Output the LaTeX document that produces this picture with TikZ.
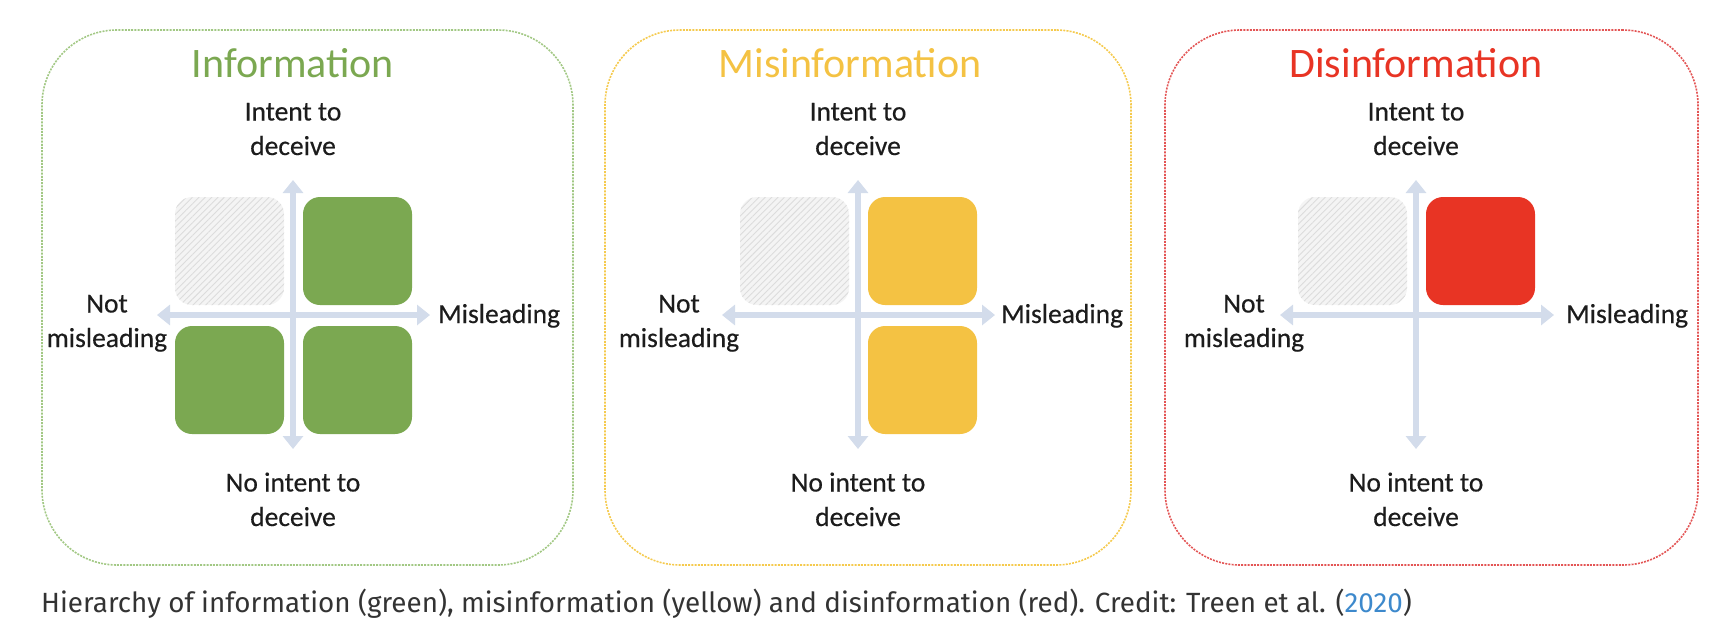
\documentclass[tikz,border=0pt]{standalone}
\usepackage{fontspec}
\setmainfont{Carlito}
\newfontfamily\lblfont[FakeBold=0.4]{Carlito}
\newfontfamily\capfont{Fira Sans}
\usetikzlibrary{arrows.meta,patterns.meta}
\definecolor{grn}{HTML}{7BA851}
\definecolor{grnline}{HTML}{A2C884}
\definecolor{ylw}{HTML}{F4C243}
\definecolor{ylwline}{HTML}{F5CA4E}
\definecolor{rd}{HTML}{E83424}
\definecolor{rdline}{HTML}{E35555}
\definecolor{axisc}{HTML}{D3DCEB}
\definecolor{hatchbg}{HTML}{F4F4F4}
\definecolor{hatchln}{HTML}{DCDCDC}
\definecolor{txt}{HTML}{1C1C1C}
\definecolor{captxt}{HTML}{333333}
\definecolor{linkc}{HTML}{3D89CC}
\tikzset{
  panelbox/.style={draw=#1, line width=1.6pt, dash pattern=on 2pt off 1.2pt,
    rounded corners=75pt, rectangle, minimum width=531pt, minimum height=535pt, inner sep=0pt},
  quad/.style={rectangle, rounded corners=17pt, minimum width=109pt,
    minimum height=108pt, inner sep=0pt, fill=#1},
  hatched/.style={rectangle, rounded corners=17pt, minimum width=109pt,
    minimum height=108pt, inner sep=0pt, fill=hatchbg,
    postaction={pattern={Lines[angle=45,distance=4.5pt,line width=0.9pt]}, pattern color=hatchln}},
  lbl/.style={font=\lblfont\fontsize{27.5}{34.5}\selectfont, text=txt, align=center, inner sep=0pt},
  ttl/.style={font=\fontsize{42}{50}\selectfont, text=#1, inner sep=0pt},
  axisarrow/.style={draw=axisc, line width=6pt,
    {Triangle[width=20pt,length=13pt]}-{Triangle[width=20pt,length=13pt]}},
}
\begin{document}
\begin{tikzpicture}[x=1pt,y=-1pt]
\useasboundingbox (0,0) rectangle (1726,638);
% ---------- Panel A: Information (axis x = 293)
\node[panelbox=grnline] (pA) at (307.5,297.5) {};
\node[ttl=grn, anchor=base] (tA) at (293,77) {Information};
\node[lbl, anchor=base] (upA) at (293,155) {Intent to\\deceive};
\node[lbl, anchor=base] (dnA) at (293,526) {No intent to\\deceive};
\node[lbl, anchor=base] (lfA) at (107,347) {Not\\misleading};
\node[lbl, anchor=base west] (rtA) at (438,323) {Misleading};
\node[hatched] (qA1) at (229.5,251) {};
\node[quad=grn] (qA2) at (357.5,251) {};
\node[quad=grn] (qA3) at (229.5,380) {};
\node[quad=grn] (qA4) at (357.5,380) {};
\coordinate (nA) at (293,180); \coordinate (sA) at (293,449);
\coordinate (wA) at (157,315); \coordinate (eA) at (430,315);
\draw[axisarrow] (wA) -- (eA);
\draw[axisarrow] (nA) -- (sA);
% ---------- Panel B: Misinformation (axis x = 858)
\node[panelbox=ylwline, minimum width=526pt] (pB) at (868,297.5) {};
\node[ttl=ylw, anchor=base] (tB) at (850,77) {Misinformation};
\node[lbl, anchor=base] (upB) at (858,155) {Intent to\\deceive};
\node[lbl, anchor=base] (dnB) at (858,526) {No intent to\\deceive};
\node[lbl, anchor=base] (lfB) at (679,347) {Not\\misleading};
\node[lbl, anchor=base west] (rtB) at (1001,323) {Misleading};
\node[hatched] (qB1) at (794.5,251) {};
\node[quad=ylw] (qB2) at (922.5,251) {};
\node[quad=ylw] (qB4) at (922.5,380) {};
\coordinate (nB) at (858,180); \coordinate (sB) at (858,449);
\coordinate (wB) at (722,315); \coordinate (eB) at (995,315);
\draw[axisarrow] (wB) -- (eB);
\draw[axisarrow] (nB) -- (sB);
% ---------- Panel C: Disinformation (axis x = 1416)
\node[panelbox=rdline, minimum width=533pt] (pC) at (1431.5,297.5) {};
\node[ttl=rd, anchor=base] (tC) at (1416,77) {Disinformation};
\node[lbl, anchor=base] (upC) at (1416,155) {Intent to\\deceive};
\node[lbl, anchor=base] (dnC) at (1416,526) {No intent to\\deceive};
\node[lbl, anchor=base] (lfC) at (1244,347) {Not\\misleading};
\node[lbl, anchor=base west] (rtC) at (1566,323) {Misleading};
\node[hatched] (qC1) at (1352.5,251) {};
\node[quad=rd] (qC2) at (1480.5,251) {};
\coordinate (nC) at (1416,180); \coordinate (sC) at (1416,449);
\coordinate (wC) at (1280,315); \coordinate (eC) at (1554,315);
\draw[axisarrow] (wC) -- (eC);
\draw[axisarrow] (nC) -- (sC);
% ---------- Caption
\node[anchor=base west, inner sep=0pt, text=captxt, font=\capfont\fontsize{27.8}{34}\selectfont] (cap) at (41,612)
  {Hierarchy of information (green), misinformation (yellow) and disinformation (red). Credit: Treen et al. (\textcolor{linkc}{2020})};
\end{tikzpicture}
\end{document}
